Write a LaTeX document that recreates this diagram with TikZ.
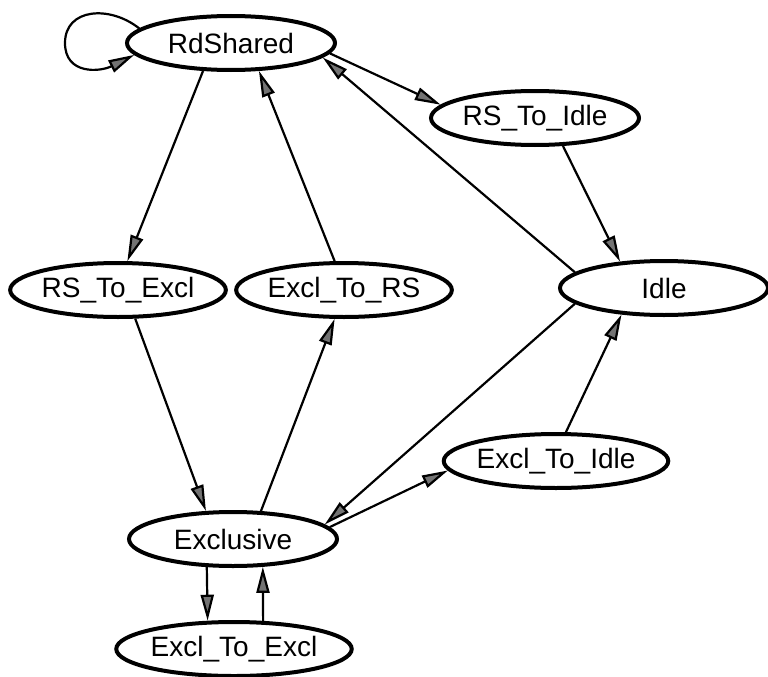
\documentclass[tikz,border=0pt]{standalone}
\usepackage{fontspec}
\setmainfont{Liberation Sans}
\usetikzlibrary{shapes.geometric,arrows.meta}

\begin{document}
\begin{tikzpicture}[x=1pt, y=-1pt,
        >={Triangle[length=26pt, width=13pt, fill=black!55]},
        state/.style={ellipse, draw, line width=4pt, minimum width=208pt, minimum height=54pt,
                inner sep=0pt, font=\fontsize{28}{32}\selectfont},
        edge/.style={->, line width=2.2pt}]
    \useasboundingbox (0,0) rectangle (768,677);
    % States
    \foreach \n/\x/\y/\t in {rd/231/43/RdShared, rsidle/535/118/RS\_To\_Idle,
            rsexcl/118/290/RS\_To\_Excl, exrs/344/290/Excl\_To\_RS, idle/664/288/Idle,
            exidle/556/461/Excl\_To\_Idle, excl/233/539/Exclusive, exex/234/649/Excl\_To\_Excl} {
            \node[state] (\n) at (\x,\y) {\t};
        }
    % Transitions
    \foreach \a/\b in {rd.-135/rsexcl.72, exrs.108/rd.-45, rd.-6/rsidle.172, idle.170/rd.-9,
            rsidle.-45/idle.149, rsexcl.-59/excl.134, excl.45/exrs.-108, idle.-170/excl.9,
            excl.7/exidle.-175, exidle.71/idle.-148, excl.-133/exex.133, exex.44/excl.-43} {
            \draw[edge] (\a) -- (\b);
        }
    % Self loop
    \draw[edge] (rd.171) .. controls (110,5) and (65,8) .. (65,43)
        .. controls (65,75) and (100,72) .. (rd.187);
\end{tikzpicture}
\end{document}
